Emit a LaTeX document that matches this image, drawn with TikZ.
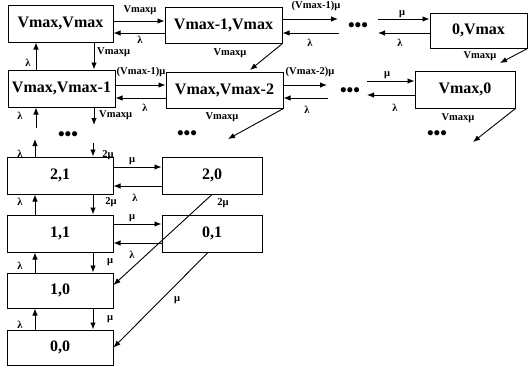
\documentclass[tikz,border=0pt]{standalone}
\usepackage{fontspec}
\setmainfont{Liberation Serif}
\usetikzlibrary{arrows.meta}
\begin{document}
\begin{tikzpicture}[x=1pt,y=-1pt,
  st/.style={draw,line width=1pt,inner sep=0pt,font=\fontsize{16}{18}\selectfont\bfseries},
  ar/.style={line width=0.9pt,-{Latex[length=7pt,width=5.5pt]}},
  lb/.style={font=\fontsize{10.5}{12}\selectfont\bfseries,inner sep=0pt},
  dt/.style={font=\fontsize{19}{21}\selectfont\bfseries,inner sep=0pt}]
\useasboundingbox (0,0) rectangle (529,367);
% states
\node[st,minimum width=105pt,minimum height=37pt] (A) at (60.5,23.5) {Vmax,Vmax};
\node[st,minimum width=117pt,minimum height=36pt] (B) at (223.5,25) {Vmax-1,Vmax};
\node[st,minimum width=97pt,minimum height=35pt] (C) at (478.5,30.5) {0,Vmax};
\node[st,minimum width=107pt,minimum height=37pt] (D) at (61.5,88.5) {Vmax,Vmax-1};
\node[st,minimum width=117pt,minimum height=36pt] (E) at (224.5,90) {Vmax,Vmax-2};
\node[st,minimum width=100pt,minimum height=37pt] (F) at (465,89.5) {Vmax,0};
\node[st,minimum width=106pt,minimum height=37pt] (G) at (60,175.5) {2,1};
\node[st,minimum width=100pt,minimum height=37pt] (H) at (212,175.5) {2,0};
\node[st,minimum width=106pt,minimum height=37pt] (I) at (60,233.5) {1,1};
\node[st,minimum width=100pt,minimum height=37pt] (J) at (212,233.5) {0,1};
\node[st,minimum width=106pt,minimum height=35pt] (K) at (60,290.5) {1,0};
\node[st,minimum width=106pt,minimum height=35pt] (L) at (60,347.5) {0,0};
% ellipses
\node[dt] (d1) at (358,27) {•••};
\node[dt] (d2) at (350,92) {•••};
\node[dt] (d3) at (68,136) {•••};
\node[dt] (d4) at (187,135) {•••};
\node[dt] (d5) at (437,135) {•••};
% free ends
\coordinate (d1a) at (338,19);
\coordinate (d1b) at (339,33);
\coordinate (d1c) at (378,19);
\coordinate (d1d) at (378,33);
\coordinate (d2a) at (327,85);
\coordinate (d2b) at (328,98);
\coordinate (d2c) at (367,81);
\coordinate (d2d) at (367,95);
\coordinate (d3a) at (36,128);
\coordinate (d3b) at (94,125);
\coordinate (d3c) at (35,139);
\coordinate (d3d) at (93,143);
\coordinate (tB) at (250,70);
\coordinate (tC) at (500,63);
\coordinate (tE) at (228,139);
\coordinate (tF) at (473,142);
% row 1
\draw[ar] ([yshift=2.5pt]A.east) -- ([yshift=4pt]B.west);
\draw[ar] ([yshift=-8pt]B.west) -- ([yshift=-9.5pt]A.east);
\draw[ar] ([yshift=6pt]B.east) -- (d1a);
\draw[ar] (d1b) -- ([yshift=-8pt]B.east);
\draw[ar] (d1c) -- ([yshift=11.5pt]C.west);
\draw[ar] ([yshift=-2.5pt]C.west) -- (d1d);
\draw[ar] (B.south east) -- (tB);
\draw[ar] (C.south east) -- (tC);
% row 2
\draw[ar] ([yshift=3.5pt]D.east) -- ([yshift=5pt]E.west);
\draw[ar] ([yshift=-8pt]E.west) -- ([yshift=-9.5pt]D.east);
\draw[ar] ([yshift=5pt]E.east) -- (d2a);
\draw[ar] (d2b) -- ([yshift=-8pt]E.east);
\draw[ar] (d2c) -- ([yshift=8.5pt]F.west);
\draw[ar] ([yshift=-5.5pt]F.west) -- (d2d);
\draw[ar] (E.south east) -- (tE);
\draw[ar] (F.south east) -- (tF);
% column verticals
\draw[ar] ([xshift=-25.5pt]D.north) -- ([xshift=-25.5pt]D.north |- A.south);
\draw[ar] ([xshift=33.5pt]A.south) -- ([xshift=33.5pt]A.south |- D.north);
\draw[ar] (d3a) -- (d3a |- D.south);
\draw[ar] ([xshift=32.5pt]D.south) -- (d3b);
\draw[ar] ([xshift=-25pt]G.north) -- (d3c);
\draw[ar] (d3d) -- (d3d |- G.north);
\draw[ar] ([xshift=-25pt]I.north) -- ([xshift=-25pt]G.south);
\draw[ar] ([xshift=33pt]G.south) -- ([xshift=33pt]I.north);
\draw[ar] ([xshift=-25pt]K.north) -- ([xshift=-25pt]I.south);
\draw[ar] ([xshift=33pt]I.south) -- ([xshift=33pt]K.north);
\draw[ar] ([xshift=-25pt]L.north) -- ([xshift=-25pt]K.south);
\draw[ar] ([xshift=33pt]K.south) -- ([xshift=33pt]L.north);
% lower horizontals and diagonals
\draw[ar] ([yshift=8.5pt]G.east) -- ([yshift=8.5pt]H.west);
\draw[ar] ([yshift=-10.5pt]H.west) -- ([yshift=-10.5pt]G.east);
\draw[ar] ([yshift=9.5pt]I.east) -- ([yshift=9.5pt]J.west);
\draw[ar] ([yshift=-9.5pt]J.west) -- ([yshift=-9.5pt]I.east);
\draw[ar] (H.south) -- ([yshift=5.5pt]K.east);
\draw[ar] ([xshift=-4pt]J.south) -- (L.east);
% labels
\node[lb] (l1) at (140,10) {Vmaxμ};
\node[lb] (l2) at (140,40) {λ};
\node[lb] (l3) at (316,6) {(Vmax-1)μ};
\node[lb] (l4) at (310,43) {λ};
\node[lb] (l5) at (402,14) {μ};
\node[lb] (l6) at (400,43) {λ};
\node[lb] (l7) at (230,53) {Vmaxμ};
\node[lb] (l8) at (480,56) {Vmaxμ};
\node[lb,anchor=west] (l9) at (97,52) {Vmaxμ};
\node[lb] (l10) at (28,63) {λ};
\node[lb] (l11) at (141,72) {(Vmax-1)μ};
\node[lb] (l12) at (145,108) {λ};
\node[lb] (l13) at (310,72) {(Vmax-2)μ};
\node[lb] (l14) at (307,110) {λ};
\node[lb] (l15) at (387,75) {μ};
\node[lb] (l16) at (395,108) {λ};
\node[lb] (l17) at (222,117) {Vmaxμ};
\node[lb] (l18) at (458,118) {Vmaxμ};
\node[lb,anchor=west] (l19) at (99,115) {Vmaxμ};
\node[lb] (l20) at (20,116) {λ};
\node[lb] (l21) at (108,155) {2μ};
\node[lb] (l22) at (20,154) {λ};
\node[lb] (l23) at (132,161) {μ};
\node[lb] (l24) at (135,198) {λ};
\node[lb] (l25) at (111,202) {2μ};
\node[lb] (l26) at (20,202) {λ};
\node[lb] (l27) at (223,203) {2μ};
\node[lb] (l28) at (132,218) {μ};
\node[lb] (l29) at (132,255) {λ};
\node[lb] (l30) at (110,262) {μ};
\node[lb] (l31) at (20,266) {λ};
\node[lb] (l32) at (177,300) {μ};
\node[lb] (l33) at (110,319) {μ};
\node[lb] (l34) at (20,325) {λ};
\end{tikzpicture}
\end{document}
